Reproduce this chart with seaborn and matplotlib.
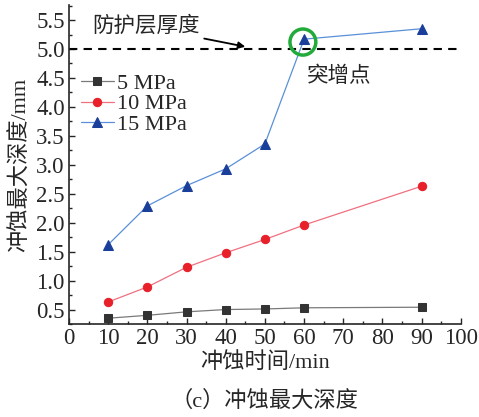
import matplotlib
matplotlib.use("Agg")
import matplotlib.pyplot as plt
import seaborn as sns
import pandas as pd
from matplotlib.patches import Ellipse
from matplotlib.ticker import MultipleLocator, FormatStrFormatter

sns.set_style("ticks")
plt.rcParams['font.family'] = ['Liberation Serif', 'Noto Sans CJK SC']
plt.rcParams['axes.unicode_minus'] = False

times = [10, 20, 30, 40, 50, 60, 90]
depth_5 = [0.35, 0.40, 0.46, 0.50, 0.51, 0.53, 0.54]
depth_10 = [0.63, 0.89, 1.23, 1.48, 1.71, 1.96, 2.63]
depth_15 = [1.62, 2.29, 2.64, 2.93, 3.36, 5.17, 5.35]
labels = ["5 MPa", "10 MPa", "15 MPa"]
protect_thickness = 5.0

fig = plt.figure(figsize=(4.79, 4.17), dpi=100)
ax = fig.add_axes([0.144, 0.223, 0.818, 0.765])

styles = [
    (depth_5, "#333333", "#7a7a7a", "s", 5.5),
    (depth_10, "#e8202a", "#f07080", "o", 6.0),
    (depth_15, "#1a3f9a", "#5a90d8", "^", 6.5),
]
for (vals, mc, lc, mk, ms), lab in zip(styles, labels):
    df = pd.DataFrame({"t": times, "d": vals})
    sns.lineplot(data=df, x="t", y="d", ax=ax, color=lc, lw=0.9,
                 marker=mk, markersize=ms, markerfacecolor=mc,
                 markeredgecolor=mc, label=lab)

ax.axhline(protect_thickness, color="black", ls=(0, (4, 3)), lw=1.5)

ax.set_xlim(0, 100)
ax.set_ylim(0.25, 5.76)
ax.xaxis.set_major_locator(MultipleLocator(10))
ax.xaxis.set_minor_locator(MultipleLocator(5))
ax.set_yticks([0.5, 1.0, 1.5, 2.0, 2.5, 3.0, 3.5, 4.0, 4.5, 5.0, 5.5])
ax.yaxis.set_minor_locator(MultipleLocator(0.25))
ax.yaxis.set_major_formatter(FormatStrFormatter('%.1f'))
ax.tick_params(axis='both', which='major', direction='in', length=4, width=1,
               labelsize=16.5, pad=3)
ax.tick_params(axis='both', which='minor', direction='in', length=2, width=1)
for s in ["top", "right"]:
    ax.spines[s].set_visible(False)
for s in ["left", "bottom"]:
    ax.spines[s].set_linewidth(1.2)

ax.set_xlabel("冲蚀时间/min", fontsize=16, labelpad=2)
ax.set_ylabel("冲蚀最大深度/mm", fontsize=16, labelpad=4)

leg = ax.legend(loc="upper left", bbox_to_anchor=(0.03, 0.786), frameon=False,
                fontsize=16, handlelength=1.5, handletextpad=0.15,
                labelspacing=0.0, borderaxespad=0.0, borderpad=0.0)

ax.add_patch(Ellipse((59.7, 5.12), 6.6, 0.45, fill=False, edgecolor="#22aa3a",
                     lw=2.5, zorder=5))
ax.annotate("防护层厚度", xy=(45, 5.04), xytext=(5.9, 5.38),
            fontsize=15.5, ha="left", va="center",
            arrowprops=dict(arrowstyle="-|>", color="black", lw=1.3,
                            mutation_scale=10, shrinkA=1, shrinkB=0))
ax.text(60.7, 4.52, "突增点", fontsize=15.5, ha="left", va="center")

fig.text(0.553, 0.038, "（c）冲蚀最大深度", fontsize=16, ha="center", va="center")

fig.savefig("out.png", dpi=100)
